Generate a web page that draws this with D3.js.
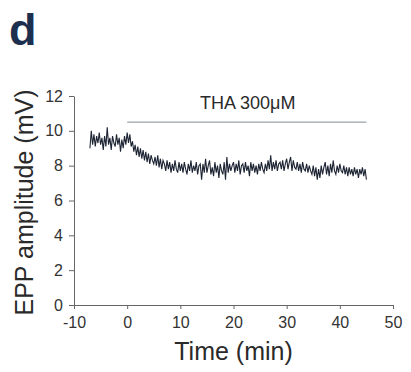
<!DOCTYPE html>
<html>
<head>
<meta charset="utf-8">
<script src="https://cdn.jsdelivr.net/npm/d3@7"></script>
<style>
  html, body { margin: 0; padding: 0; background: #fff; }
  svg { display: block; font-family: "Liberation Sans", Arial, sans-serif; }
</style>
</head>
<body>
<div id="chart"></div>
<script>
// EPP amplitude (mV), one sample every 0.25 min starting at -7 min
const sampleStart = -7;
const sampleStep = 0.25;
const eppValues = [
  9.0, 10.0, 9.2, 9.8, 9.1, 9.7, 9.3, 9.9, 9.2, 9.6, 8.9, 9.7, 9.1, 10.2, 9.2, 9.6, 8.9, 9.7, 9.3, 9.1, 9.8, 9.2, 9.6, 8.8, 9.5, 9.0, 9.7, 9.2,
  9.9, 9.3, 9.8, 9.1, 9.4, 8.8, 9.2, 8.6, 9.1, 8.5, 9.0, 8.4, 8.9, 8.3, 8.8, 8.2, 8.7, 8.1, 8.6, 8.3,
  8.1, 8.5, 8.0, 8.6, 7.9, 8.4, 7.8, 8.3, 8.1, 7.7, 8.3, 7.8, 8.2, 7.6, 8.1, 7.7, 8.3, 7.8, 7.6, 8.2,
  7.7, 8.1, 7.6, 8.2, 7.8, 7.5, 8.1, 7.7, 8.3, 7.6, 8.0, 7.7, 8.2, 7.5, 8.0, 8.1, 7.2, 8.1, 7.6, 8.4,
  7.6, 8.0, 8.3, 7.5, 7.9, 7.4, 8.2, 7.6, 8.0, 7.3, 8.1, 7.7, 7.5, 8.2, 7.2, 8.5, 7.6, 8.1, 7.7, 8.0,
  8.2, 7.6, 8.1, 7.7, 8.3, 7.5, 8.0, 8.1, 7.6, 8.2, 7.7, 8.0, 7.4, 8.2, 7.7, 8.1, 7.6, 8.0, 7.5, 8.1,
  7.7, 8.2, 7.8, 7.6, 8.1, 7.7, 8.3, 7.8, 8.6, 7.7, 8.2, 7.8, 8.3, 7.7, 8.1, 8.2, 7.8, 8.3, 7.7, 8.1,
  8.4, 7.8, 8.2, 8.5, 7.7, 8.3, 7.9, 7.8, 8.2, 7.7, 8.1, 7.6, 8.2, 7.8, 7.7, 8.1, 7.6, 8.0, 7.7, 7.5,
  8.0, 7.4, 7.9, 7.2, 7.8, 7.3, 8.0, 7.5, 7.9, 8.2, 7.5, 8.0, 7.4, 8.1, 7.6, 8.3, 7.7, 7.5, 8.0, 7.6,
  8.1, 7.7, 7.6, 8.0, 7.5, 7.9, 7.4, 7.9, 7.5, 7.8, 7.4, 7.9, 7.5, 7.8, 7.3, 7.8, 7.5, 7.9, 7.4, 7.8, 7.2
];

// drug application bar
const drugLabel = 'THA 300\u03bcM';
const drugStart = 0;
const drugEnd = 45;
const drugLevel = 10.5;

const xTicks = [-10, 0, 10, 20, 30, 40, 50];
const yTicks = [0, 2, 4, 6, 8, 10, 12];

const width = 411;
const height = 372;
const margin = { top: 96, right: 18, bottom: 67, left: 74 };

const svg = d3.select('#chart').append('svg')
  .attr('width', width)
  .attr('height', height);

const x = d3.scaleLinear().domain([-10, 50]).range([margin.left, width - margin.right]);
const y = d3.scaleLinear().domain([0, 12]).range([height - margin.bottom, margin.top]);

/* ---------- panel letter ---------- */
svg.append('text')
  .attr('x', 9)
  .attr('y', 45)
  .attr('fill', '#1c2f4f')
  .attr('font-size', 45)
  .attr('font-weight', 'bold')
  .text('d');

/* ---------- axes ---------- */
const xAxis = svg.append('g')
  .attr('transform', 'translate(0,' + y(0) + ')')
  .call(d3.axisBottom(x).tickValues(xTicks).tickFormat(d => String(d))
    .tickSize(4).tickPadding(8).tickSizeOuter(0));

const yAxis = svg.append('g')
  .attr('transform', 'translate(' + x(-10) + ',0)')
  .call(d3.axisLeft(y).tickValues(yTicks).tickFormat(d => String(d))
    .tickSize(5).tickPadding(6).tickSizeOuter(0));

[xAxis, yAxis].forEach(a => {
  a.select('.domain').attr('stroke', '#666');
  a.selectAll('.tick line').attr('stroke', '#666');
  a.selectAll('.tick text')
    .attr('fill', '#333')
    .attr('font-size', 16)
    .attr('font-family', '"Liberation Sans", Arial, sans-serif');
});

/* ---------- axis titles ---------- */
svg.append('text')
  .attr('x', (x(-10) + x(50)) / 2)
  .attr('y', 360)
  .attr('text-anchor', 'middle')
  .attr('fill', '#2a2a2a')
  .attr('font-size', 25)
  .text('Time (min)');

svg.append('text')
  .attr('transform', 'translate(33,' + (y(6) + 2) + ') rotate(-90)')
  .attr('text-anchor', 'middle')
  .attr('fill', '#2a2a2a')
  .attr('font-size', 25)
  .text('EPP amplitude (mV)');

/* ---------- drug bar ---------- */
svg.append('line')
  .attr('x1', x(drugStart))
  .attr('x2', x(drugEnd))
  .attr('y1', y(drugLevel))
  .attr('y2', y(drugLevel))
  .attr('stroke', '#7f8c96')
  .attr('stroke-width', 1);

svg.append('text')
  .attr('x', (x(drugStart) + x(drugEnd)) / 2 + 1)
  .attr('y', 109)
  .attr('text-anchor', 'middle')
  .attr('fill', '#2a2a2a')
  .attr('font-size', 18)
  .text(drugLabel);

/* ---------- trace ---------- */
const line = d3.line()
  .x((d, i) => x(sampleStart + i * sampleStep))
  .y(d => y(d));

svg.append('path')
  .datum(eppValues)
  .attr('fill', 'none')
  .attr('stroke', '#1d2433')
  .attr('stroke-width', 1.1)
  .attr('d', line);
</script>
</body>
</html>
